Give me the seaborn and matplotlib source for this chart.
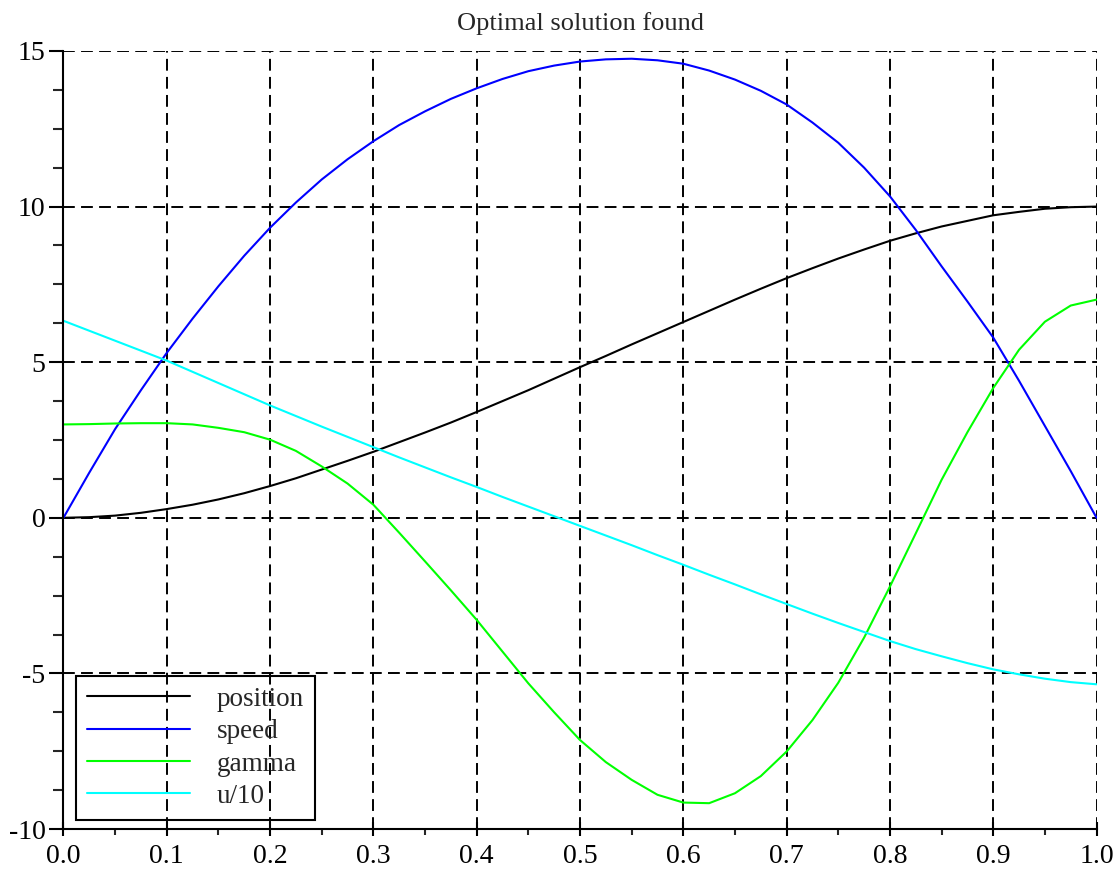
import numpy as np
import pandas as pd
import matplotlib
matplotlib.use('Agg')
import matplotlib.pyplot as plt
import seaborn as sns
from matplotlib.ticker import MultipleLocator, FormatStrFormatter

# --- values (step 0.025) ---
t = [0.000, 0.025, 0.050, 0.075, 0.100, 0.125, 0.150, 0.175, 0.200, 0.225,
     0.250, 0.275, 0.300, 0.325, 0.350, 0.375, 0.400, 0.425, 0.450, 0.475,
     0.500, 0.525, 0.550, 0.575, 0.600, 0.625, 0.650, 0.675, 0.700, 0.725,
     0.750, 0.775, 0.800, 0.825, 0.850, 0.875, 0.900, 0.925, 0.950, 0.975,
     1.000]

position = [0.00, 0.02, 0.07, 0.16, 0.28, 0.42, 0.59, 0.79, 1.02, 1.27,
            1.55, 1.83, 2.12, 2.43, 2.74, 3.06, 3.40, 3.75, 4.10, 4.47,
            4.84, 5.20, 5.57, 5.93, 6.29, 6.65, 7.01, 7.36, 7.70, 8.02,
            8.33, 8.62, 8.90, 9.14, 9.36, 9.54, 9.72, 9.83, 9.93, 9.98,
            10.00]

speed = [0.00, 1.45, 2.85, 4.10, 5.30, 6.40, 7.44, 8.42, 9.32, 10.13,
         10.87, 11.52, 12.10, 12.62, 13.06, 13.46, 13.80, 14.10, 14.35, 14.53,
         14.66, 14.73, 14.75, 14.70, 14.59, 14.37, 14.08, 13.72, 13.28, 12.70,
         12.05, 11.25, 10.33, 9.25, 8.08, 6.95, 5.79, 4.40, 2.95, 1.50,
         0.00]

gamma = [3.00, 3.01, 3.03, 3.04, 3.04, 3.00, 2.89, 2.75, 2.51, 2.15,
         1.65, 1.10, 0.42, -0.48, -1.40, -2.33, -3.28, -4.30, -5.32, -6.25,
         -7.14, -7.85, -8.42, -8.90, -9.15, -9.17, -8.85, -8.30, -7.51, -6.50,
         -5.30, -3.85, -2.21, -0.50, 1.22, 2.75, 4.17, 5.40, 6.30, 6.82,
         7.01]

u10 = [6.33, 6.01, 5.69, 5.37, 5.05, 4.69, 4.33, 3.97, 3.61, 3.27,
       2.93, 2.60, 2.27, 1.94, 1.62, 1.30, 0.99, 0.67, 0.36, 0.05,
       -0.26, -0.57, -0.88, -1.20, -1.51, -1.83, -2.14, -2.46, -2.77, -3.08,
       -3.38, -3.67, -3.96, -4.22, -4.45, -4.67, -4.87, -5.03, -5.17, -5.28,
       -5.35]

series_names = ['position', 'speed', 'gamma', 'u/10']
series_colors = ['#000000', '#0000ff', '#00ff00', '#00ffff']

df = pd.DataFrame({'t': t, 'position': position, 'speed': speed,
                   'gamma': gamma, 'u/10': u10})
long_df = df.melt(id_vars='t', var_name='series', value_name='value')

sns.set_style('ticks')
plt.rcParams['font.family'] = ['Liberation Serif', 'DejaVu Serif']
plt.rcParams['axes.unicode_minus'] = False
plt.rcParams['lines.scale_dashes'] = False

fig = plt.figure(figsize=(11.17, 8.71), dpi=100)
ax = fig.add_axes([0.0568, 0.0482, 0.9249, 0.8933])

for name, color in zip(series_names, series_colors):
    sub = long_df[long_df['series'] == name]
    sns.lineplot(data=sub, x='t', y='value', color=color, linewidth=1.5,
                 label=name, ax=ax, sort=False)

ax.set_xlim(0, 1)
ax.set_ylim(-10, 15)
ax.xaxis.set_major_locator(MultipleLocator(0.1))
ax.xaxis.set_minor_locator(MultipleLocator(0.05))
ax.yaxis.set_major_locator(MultipleLocator(5))
ax.yaxis.set_minor_locator(MultipleLocator(1.25))
ax.xaxis.set_major_formatter(FormatStrFormatter('%.1f'))
ax.yaxis.set_major_formatter(FormatStrFormatter('%d'))

ax.grid(True, which='major', color='black', linewidth=1.4,
        linestyle=(0, (8.5, 4.5)))
ax.set_axisbelow(True)

for side in ['top', 'right']:
    ax.spines[side].set_visible(False)
for side in ['left', 'bottom']:
    ax.spines[side].set_linewidth(1.5)
    ax.spines[side].set_color('black')

ax.tick_params(axis='y', which='major', direction='out', length=10, width=1.5,
               labelsize=20, pad=3, colors='black')
ax.tick_params(axis='y', which='minor', direction='out', length=7, width=1.5)
ax.tick_params(axis='x', which='major', direction='inout', length=10, width=1.5,
               labelsize=20, pad=6, colors='black')
ax.tick_params(axis='x', which='minor', direction='out', length=4, width=1.5)

ax.set_xlabel('')
ax.set_ylabel('')
ax.set_title('Optimal solution found', fontsize=19, pad=15)

leg = ax.legend(loc='lower left', bbox_to_anchor=(0.012, 0.012), borderaxespad=0,
                fontsize=19.5, frameon=True, fancybox=False, framealpha=1,
                handlelength=3.8, handletextpad=1.0, labelspacing=0.27,
                borderpad=0.4)
leg.get_frame().set_edgecolor('black')
leg.get_frame().set_linewidth(1.5)
leg.get_frame().set_facecolor('none')

fig.savefig('out.png', dpi=100)
